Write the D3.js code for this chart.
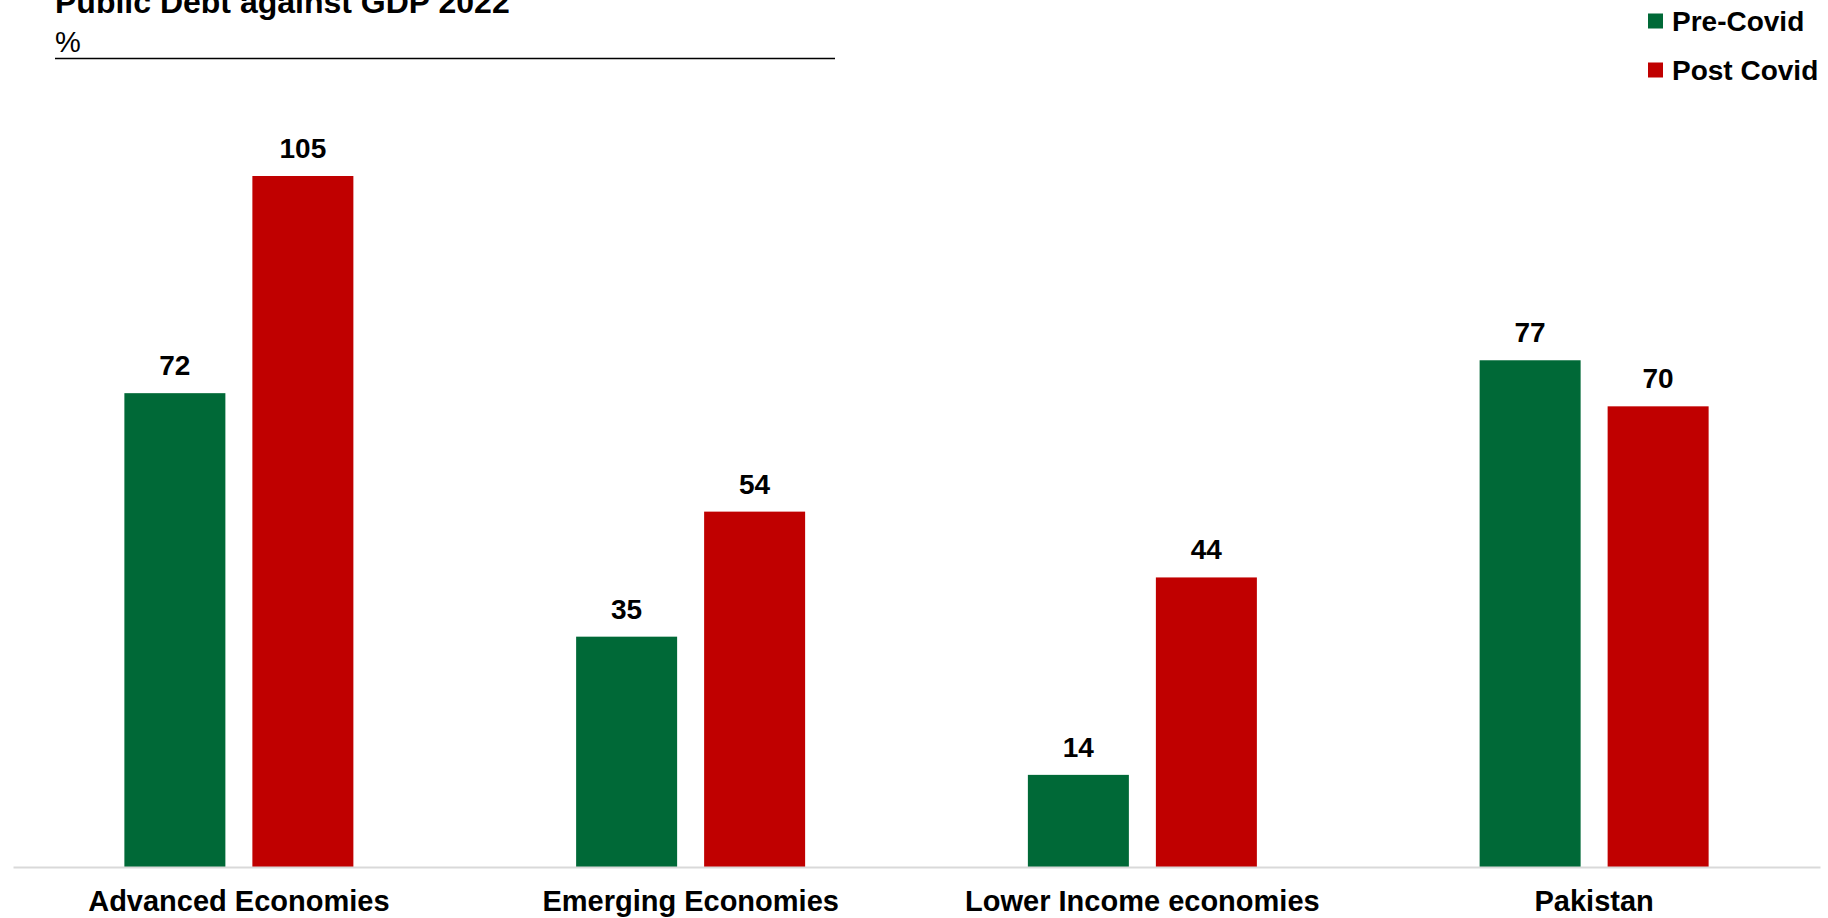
<!DOCTYPE html>
<html>
<head>
<meta charset="utf-8">
<script src="https://cdn.jsdelivr.net/npm/d3@7"></script>
<style>
  body { margin: 0; background: #fff; }
  svg { display: block; font-family: "Liberation Sans", Arial, sans-serif; }
</style>
</head>
<body>
<div id="chart"></div>
<script>
// data
const categories = ["Advanced Economies", "Emerging Economies", "Lower Income economies", "Pakistan"];
const seriesNames = ["Pre-Covid", "Post Covid"];
const preCovid = [72, 35, 14, 77];
const postCovid = [105, 54, 44, 70];
const seriesColors = ["#006937", "#C00000"];

const width = 1828;
const height = 918;

const data = categories.map((c, i) => ({
  category: c,
  values: [
    { key: seriesNames[0], value: preCovid[i] },
    { key: seriesNames[1], value: postCovid[i] },
  ],
}));

const svg = d3
  .select("#chart")
  .append("svg")
  .attr("width", width)
  .attr("height", height);

// scales
const x0 = d3.scaleBand().domain(categories).range([13, 1820]).padding(0);

const groupWidth = 229;
const x1 = d3
  .scaleBand()
  .domain(seriesNames)
  .range([-groupWidth / 2, groupWidth / 2])
  .paddingInner(27 / 128)
  .paddingOuter(0);

const y = d3.scaleLinear().domain([0, 105]).range([867, 176]);

const color = d3.scaleOrdinal().domain(seriesNames).range(seriesColors);

// title block (top of title is clipped by the page edge, like the original)
svg
  .append("text")
  .attr("x", 55)
  .attr("y", 13)
  .style("font-size", "32px")
  .style("font-weight", "bold")
  .text("Public Debt against GDP 2022");

svg
  .append("text")
  .attr("x", 55)
  .attr("y", 51.5)
  .style("font-size", "29px")
  .text("%");

svg
  .append("line")
  .attr("x1", 55)
  .attr("x2", 835)
  .attr("y1", 58.5)
  .attr("y2", 58.5)
  .attr("stroke", "#000")
  .attr("stroke-width", 1.5);

// bars
const groups = svg
  .selectAll("g.group")
  .data(data)
  .join("g")
  .attr("class", "group")
  .attr("transform", (d) => `translate(${x0(d.category) + x0.bandwidth() / 2},0)`);

groups
  .selectAll("rect")
  .data((d) => d.values)
  .join("rect")
  .attr("x", (d) => x1(d.key))
  .attr("y", (d) => y(d.value))
  .attr("width", x1.bandwidth())
  .attr("height", (d) => y(0) - y(d.value))
  .attr("fill", (d) => color(d.key));

// value labels
groups
  .selectAll("text.value")
  .data((d) => d.values)
  .join("text")
  .attr("class", "value")
  .attr("x", (d) => x1(d.key) + x1.bandwidth() / 2)
  .attr("y", (d) => y(d.value) - 18)
  .attr("text-anchor", "middle")
  .style("font-size", "28px")
  .style("font-weight", "bold")
  .text((d) => d.value);

// baseline axis
const xAxis = d3.axisBottom(x0).tickSize(0).tickPadding(0);
const axisG = svg
  .append("g")
  .attr("transform", `translate(0,${y(0)})`)
  .call(xAxis);

axisG.select(".domain").attr("stroke", "#d9d9d9").attr("stroke-width", 2);

axisG
  .selectAll(".tick text")
  .attr("y", 44)
  .attr("dy", null)
  .style("font-family", "\"Liberation Sans\", Arial, sans-serif")
  .style("font-size", "29px")
  .style("font-weight", "bold")
  .attr("fill", "#000");

// legend
const legend = svg
  .selectAll("g.legend")
  .data(seriesNames)
  .join("g")
  .attr("class", "legend")
  .attr("transform", (d, i) => `translate(1648,${13.5 + i * 49})`);

legend
  .append("rect")
  .attr("width", 15)
  .attr("height", 15)
  .attr("fill", (d) => color(d));

legend
  .append("text")
  .attr("x", 24)
  .attr("y", 17)
  .style("font-size", "28px")
  .style("font-weight", "bold")
  .text((d) => d);
</script>
</body>
</html>
